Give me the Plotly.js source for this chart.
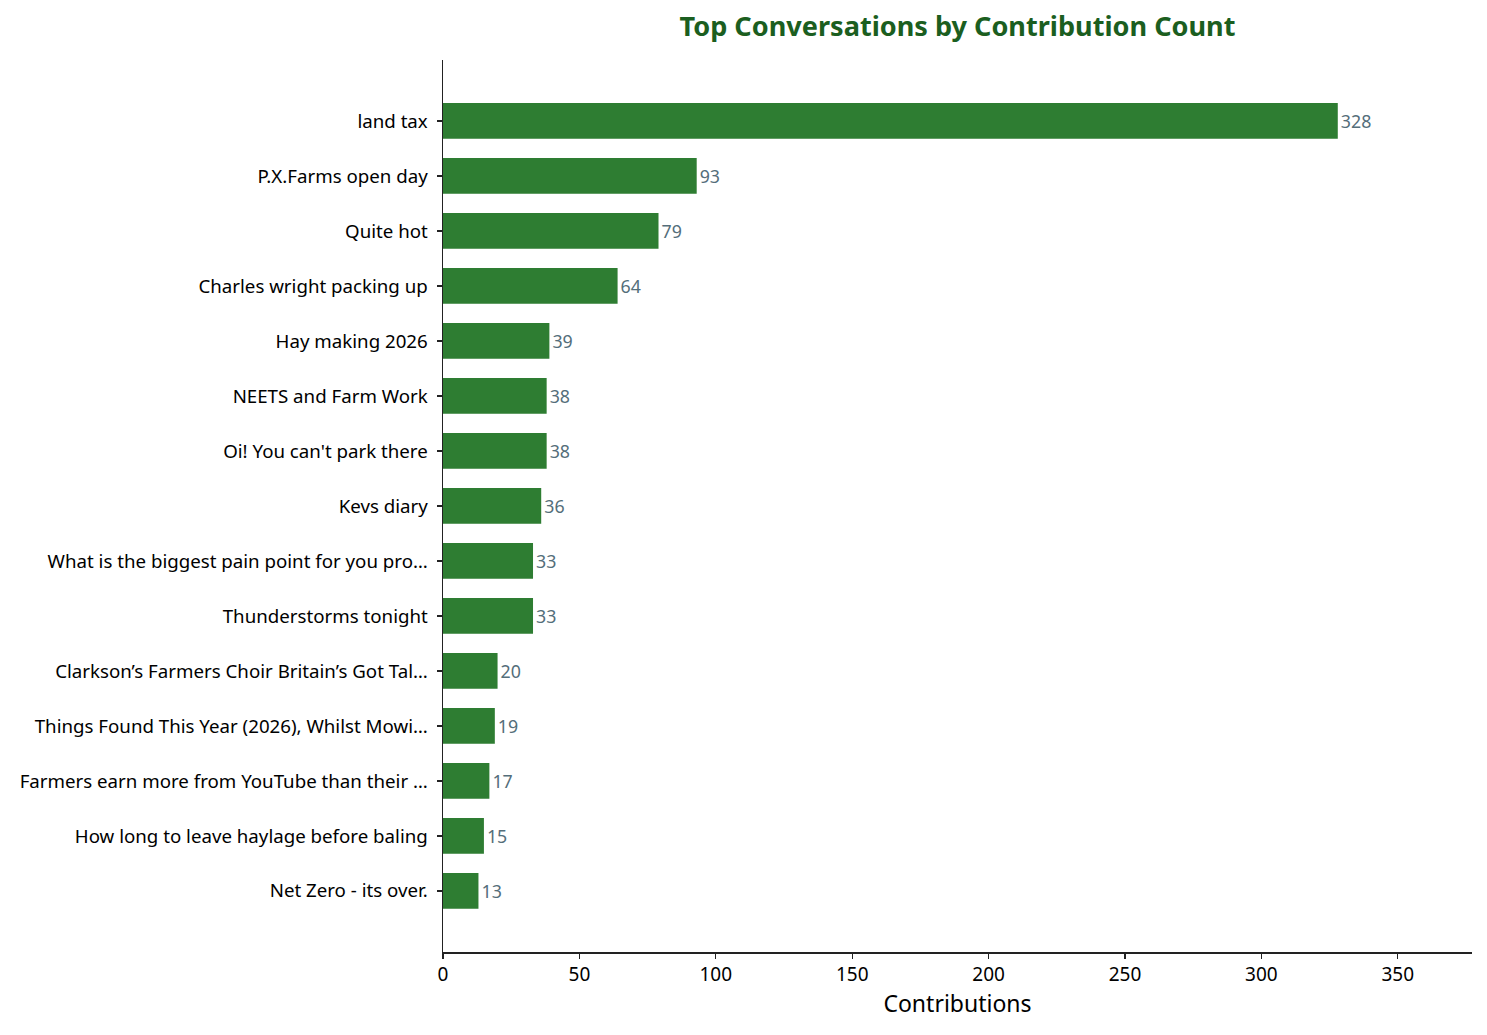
<!DOCTYPE html>
<html>
<head>
<meta charset="utf-8">
<script src="https://cdn.plot.ly/plotly-3.0.1.min.js"></script>
<style>html,body{margin:0;padding:0;background:#fff;}#chart{width:1487px;height:1035px;}</style>
</head>
<body>
<div id="chart"></div>
<script>
const categories = [
  "land tax",
  "P.X.Farms open day",
  "Quite hot",
  "Charles wright packing up",
  "Hay making 2026",
  "NEETS and Farm Work",
  "Oi! You can't park there",
  "Kevs diary",
  "What is the biggest pain point for you pro…",
  "Thunderstorms tonight",
  "Clarkson’s Farmers Choir Britain’s Got Tal…",
  "Things Found This Year (2026), Whilst Mowi…",
  "Farmers earn more from YouTube than their …",
  "How long to leave haylage before baling",
  "Net Zero - its over."
];
const contributions = [328, 93, 79, 64, 39, 38, 38, 36, 33, 33, 20, 19, 17, 15, 13];
const xTickValues = [0, 50, 100, 150, 200, 250, 300, 350];

const idx = categories.map((_, i) => i);

const trace = {
  type: 'bar',
  orientation: 'h',
  x: contributions,
  y: idx,
  width: 0.65,
  marker: {color: '#2e7d32', line: {width: 0}},
  text: contributions.map(String),
  textposition: 'outside',
  cliponaxis: false,
  textfont: {family: 'Noto Sans', size: 17.8, color: '#546e7a'},
  hoverinfo: 'x+y'
};

const layout = {
  width: 1487,
  height: 1035,
  margin: {l: 443, r: 15, t: 60, b: 83},
  paper_bgcolor: '#ffffff',
  plot_bgcolor: '#ffffff',
  font: {family: 'Noto Sans', color: '#000000'},
  showlegend: false,
  title: {
    text: '<b>Top Conversations by Contribution Count</b>',
    font: {family: 'Noto Sans', size: 27.1, color: '#1b5e20'},
    x: 0.5, xref: 'paper', xanchor: 'center',
    y: 1 - 27/1035, yref: 'container', yanchor: 'middle'
  },
  xaxis: {
    range: [0, 377.2],
    tickvals: xTickValues,
    ticktext: xTickValues.map(String),
    ticks: 'outside', ticklen: 5, tickwidth: 1.2, tickcolor: '#222',
    showline: true, linecolor: '#222', linewidth: 1.5,
    showgrid: false, zeroline: false,
    tickfont: {family: 'Noto Sans', size: 19, color: '#000'},
    title: {text: 'Contributions', font: {family: 'Noto Sans', size: 23, color: '#000'}, standoff: 9},
    fixedrange: true
  },
  yaxis: {
    range: [15.11, -1.109],
    tickvals: idx,
    ticktext: categories,
    ticks: 'outside', ticklen: 5, tickwidth: 1.2, tickcolor: '#222',
    ticklabelstandoff: 5,
    showline: true, linecolor: '#222', linewidth: 1.5,
    showgrid: false, zeroline: false,
    tickfont: {family: 'Noto Sans', size: 18.7, color: '#000'},
    fixedrange: true
  },
  bargap: 0.35
};

Plotly.newPlot('chart', [trace], layout, {displayModeBar: false, staticPlot: true});
</script>
</body>
</html>
